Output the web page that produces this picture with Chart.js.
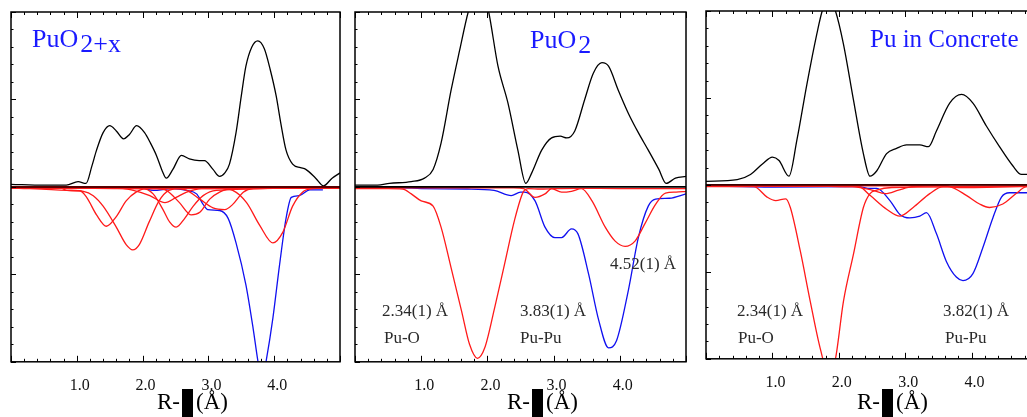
<!DOCTYPE html>
<html>
<head>
<meta charset="utf-8">
<script src="https://cdn.jsdelivr.net/npm/chart.js@4.4.1/dist/chart.umd.min.js"></script>
<style>
html, body { margin: 0; padding: 0; background: #fff; overflow: hidden; }
#wrap { position: relative; width: 1027px; height: 417px; overflow: hidden; }
canvas { position: absolute; top: 0; }
</style>
</head>
<body>
<div id="wrap">
  <canvas id="c1" width="345" height="417" style="left:0px"></canvas>
  <canvas id="c2" width="345" height="417" style="left:345px"></canvas>
  <canvas id="c3" width="350" height="417" style="left:690px"></canvas>
</div>
<script>
// tick labels on the R axis
const xTickValues = [1, 2, 3, 4];
const zeroX = [0, 5];
const zeroY = [0, 0];

// ---- PuO2+x ----
const p1BlackX = [0, 0.5, 0.84, 1.02, 1.14, 1.23, 1.30, 1.40, 1.5, 1.6, 1.71, 1.80, 1.91, 2.03, 2.12, 2.21, 2.30, 2.36, 2.46, 2.59, 2.71, 2.86, 2.94, 3.07, 3.17, 3.25, 3.32, 3.42, 3.50, 3.57, 3.66, 3.75, 3.85, 3.94, 4.03, 4.10, 4.18, 4.28, 4.40, 4.48, 4.63, 4.75, 4.88, 5.0];
const p1BlackY = [0.015, 0.01, 0.01, 0.03, 0.02, 0.12, 0.21, 0.31, 0.35, 0.32, 0.275, 0.30, 0.35, 0.31, 0.25, 0.18, 0.09, 0.05, 0.10, 0.18, 0.16, 0.15, 0.15, 0.10, 0.06, 0.08, 0.13, 0.31, 0.52, 0.69, 0.80, 0.835, 0.79, 0.67, 0.52, 0.365, 0.21, 0.13, 0.11, 0.10, 0.05, 0.006, 0.05, 0.08];
const p1BlueX = [0, 1.0, 2.0, 2.16, 2.45, 2.67, 2.82, 2.92, 2.99, 3.17, 3.30, 3.42, 3.57, 3.68, 3.75, 3.81, 3.88, 3.98, 4.08, 4.18, 4.26, 4.38, 4.54, 4.74];
const p1BlueY = [-0.003, -0.005, -0.008, -0.02, -0.01, -0.02, -0.04, -0.10, -0.13, -0.135, -0.18, -0.32, -0.56, -0.81, -0.99, -1.12, -0.99, -0.75, -0.45, -0.18, -0.06, -0.05, -0.017, -0.017];
const p1RedAX = [0, 0.75, 0.85, 1.05, 1.15, 1.3, 1.45, 1.6, 1.75, 1.9, 2.05, 5.0];
const p1RedAY = [-0.005, -0.005, -0.02, -0.022, -0.06, -0.16, -0.225, -0.17, -0.08, -0.03, -0.01, -0.005];
const p1RedBX = [0, 0.85, 1.1, 1.25, 1.4, 1.6, 1.75, 1.85, 1.95, 2.1, 2.25, 2.4, 2.6, 5.0];
const p1RedBY = [-0.005, -0.02, -0.025, -0.05, -0.11, -0.23, -0.33, -0.36, -0.33, -0.2, -0.08, -0.02, -0.008, -0.005];
const p1RedCX = [0, 2.0, 2.16, 2.31, 2.41, 2.51, 2.64, 2.77, 2.92, 3.12, 5.0];
const p1RedCY = [-0.005, -0.01, -0.04, -0.13, -0.2, -0.23, -0.18, -0.11, -0.05, -0.02, -0.005];
const p1RedDX = [0, 2.2, 2.36, 2.56, 2.74, 2.87, 3.02, 3.17, 3.35, 5.0];
const p1RedDY = [-0.005, -0.01, -0.02, -0.09, -0.16, -0.145, -0.07, -0.03, -0.01, -0.005];
const p1RedEX = [0, 3.2, 3.37, 3.58, 3.78, 3.98, 4.13, 4.28, 4.43, 4.59, 5.0];
const p1RedEY = [-0.005, -0.01, -0.02, -0.09, -0.22, -0.32, -0.26, -0.11, -0.03, -0.01, -0.005];
const p1RedFX = [0, 2.5, 2.67, 2.87, 3.07, 3.25, 3.37, 3.53, 3.68, 5.0];
const p1RedFY = [-0.005, -0.01, -0.02, -0.07, -0.12, -0.13, -0.10, -0.03, -0.01, -0.005];
const p1RedGX = [0, 1.7, 1.86, 2.11, 2.34, 2.51, 2.67, 2.9, 5.0];
const p1RedGY = [-0.005, -0.01, -0.02, -0.05, -0.09, -0.06, -0.03, -0.01, -0.005];

// ---- PuO2 ----
const p2BlackX = [0, 0.34, 0.52, 0.85, 1.05, 1.18, 1.30, 1.45, 1.58, 1.71, 1.80, 1.87, 1.95, 2.02, 2.16, 2.31, 2.46, 2.58, 2.67, 2.82, 2.97, 3.10, 3.20, 3.32, 3.47, 3.60, 3.73, 3.83, 3.98, 4.13, 4.28, 4.43, 4.59, 4.70, 4.84, 5.0];
const p2BlackY = [0.01, 0.01, 0.02, 0.03, 0.05, 0.10, 0.25, 0.55, 0.78, 1.0, 1.1, 1.13, 1.1, 1.0, 0.69, 0.48, 0.21, 0.02, 0.08, 0.21, 0.28, 0.29, 0.28, 0.32, 0.50, 0.65, 0.71, 0.69, 0.55, 0.42, 0.31, 0.21, 0.10, 0.02, 0.05, 0.06];
const p2BlueX = [0, 0.7, 1.0, 1.7, 2.1, 2.36, 2.50, 2.56, 2.72, 2.87, 3.02, 3.12, 3.27, 3.37, 3.53, 3.68, 3.83, 3.95, 4.13, 4.28, 4.43, 4.54, 4.75, 5.0];
const p2BlueY = [-0.005, -0.005, -0.01, -0.012, -0.02, -0.05, -0.03, -0.03, -0.08, -0.23, -0.29, -0.29, -0.24, -0.27, -0.50, -0.76, -0.92, -0.88, -0.59, -0.29, -0.11, -0.07, -0.065, -0.04];
const p2RedOX = [0, 0.5, 0.72, 0.85, 1.0, 1.18, 1.30, 1.45, 1.61, 1.73, 1.85, 1.96, 2.11, 2.26, 2.41, 2.54, 2.62, 2.8, 3.0, 3.4, 4.0, 5.0];
const p2RedOY = [-0.01, -0.01, -0.012, -0.04, -0.08, -0.11, -0.23, -0.46, -0.71, -0.90, -0.98, -0.92, -0.69, -0.44, -0.19, -0.03, -0.01, -0.012, -0.01, -0.008, -0.01, -0.01];
const p2RedFarX = [0, 2.4, 2.55, 2.72, 2.87, 2.97, 3.12, 3.27, 3.42, 3.58, 3.78, 3.93, 4.08, 4.23, 4.38, 4.54, 4.69, 4.85, 5.0];
const p2RedFarY = [-0.005, -0.005, -0.01, -0.06, -0.04, -0.01, -0.03, -0.025, -0.01, -0.08, -0.23, -0.31, -0.34, -0.31, -0.21, -0.10, -0.035, -0.03, -0.025];

// ---- Pu in Concrete ----
const p3BlackX = [0, 0.47, 0.67, 0.85, 1.0, 1.1, 1.25, 1.37, 1.52, 1.67, 1.75, 1.85, 1.95, 2.07, 2.22, 2.37, 2.47, 2.57, 2.72, 2.87, 3.02, 3.22, 3.35, 3.47, 3.67, 3.85, 4.02, 4.22, 4.42, 4.62, 4.75, 4.85, 5.0];
const p3BlackY = [0.02, 0.03, 0.06, 0.12, 0.16, 0.14, 0.05, 0.26, 0.58, 0.87, 1.0, 1.08, 1.0, 0.81, 0.49, 0.18, 0.05, 0.08, 0.18, 0.21, 0.23, 0.23, 0.22, 0.31, 0.47, 0.52, 0.47, 0.34, 0.22, 0.11, 0.06, 0.06, 0.06];
const p3BlueX = [0, 1.0, 2.3, 2.47, 2.57, 2.77, 2.92, 3.07, 3.22, 3.32, 3.47, 3.62, 3.77, 3.87, 4.02, 4.17, 4.32, 4.45, 4.57, 4.82, 5.0];
const p3BlueY = [-0.005, -0.012, -0.01, -0.02, -0.02, -0.09, -0.17, -0.19, -0.18, -0.16, -0.28, -0.44, -0.53, -0.55, -0.51, -0.36, -0.19, -0.07, -0.045, -0.045, -0.045];
const p3RedOX = [0, 0.72, 0.92, 1.05, 1.2, 1.27, 1.42, 1.57, 1.72, 1.86, 1.95, 2.07, 2.22, 2.37, 2.47, 2.57, 2.8, 5.0];
const p3RedOY = [-0.01, -0.01, -0.07, -0.09, -0.08, -0.13, -0.38, -0.67, -0.94, -1.1, -1.0, -0.67, -0.40, -0.13, -0.05, -0.03, -0.015, -0.01];
const p3RedMidX = [0, 2.3, 2.47, 2.72, 2.92, 3.12, 3.37, 3.57, 5.0];
const p3RedMidY = [-0.005, -0.01, -0.06, -0.14, -0.18, -0.13, -0.05, -0.01, -0.005];
const p3RedFarX = [0, 3.5, 3.67, 3.92, 4.12, 4.27, 4.47, 4.67, 4.82, 5.0];
const p3RedFarY = [-0.005, -0.005, -0.01, -0.06, -0.11, -0.13, -0.11, -0.05, -0.01, -0.005];
const p3RedSmallX = [0, 2.2, 2.5, 2.7, 2.9, 3.1, 3.6, 3.8, 5.0];
const p3RedSmallY = [-0.005, -0.01, -0.03, -0.05, -0.03, -0.01, -0.005, -0.015, -0.005];

const RED = '#ff1a1a', BLUE = '#1010f0', BLACK = '#000';
const SERIF = '"Liberation Serif", "Times New Roman", serif';

function pts(xs, ys) {
    return xs.map((x, i) => ({ x: x, y: ys[i] }));
}

function line(xs, ys, color, w) {
    return {
        data: pts(xs, ys),
        borderColor: color,
        borderWidth: w || 1.3,
        pointRadius: 0,
        fill: false,
        cubicInterpolationMode: 'monotone'
    };
}

// frame, inner ticks and text labels
const decoPlugin = {
    id: 'deco',
    afterDraw(chart, args, opts) {
        const ctx = chart.ctx, a = chart.chartArea;
        const xs = chart.scales.x, ys = chart.scales.y;
        ctx.save();
        ctx.strokeStyle = '#000';
        ctx.lineWidth = 1;
        ctx.beginPath();
        for (let i = 0; i <= 25; i++) {
            const px = Math.round(xs.getPixelForValue(i * 0.2)) + 0.5;
            const len = i % 5 === 0 ? 6 : 3;
            ctx.moveTo(px, a.bottom); ctx.lineTo(px, a.bottom - len);
            ctx.moveTo(px, a.top); ctx.lineTo(px, a.top + len);
        }
        for (let j = -10; j <= 10; j++) {
            const py = Math.round(ys.getPixelForValue(j * 0.1)) + 0.5;
            const len = j % 5 === 0 ? 5 : 2.5;
            ctx.moveTo(a.left, py); ctx.lineTo(a.left + len, py);
        }
        ctx.stroke();
        ctx.lineWidth = 1.5;
        ctx.strokeRect(a.left, a.top, a.right - a.left, a.bottom - a.top);

        // panel title
        ctx.fillStyle = '#1a1aff';
        ctx.textBaseline = 'alphabetic';
        ctx.textAlign = 'left';
        const t = opts.title;
        ctx.font = t.size + 'px ' + SERIF;
        ctx.fillText(t.text, t.x, t.y);
        if (t.sub) {
            const w = ctx.measureText(t.text).width;
            ctx.fillText(t.sub, t.x + w + 2, t.y + 5);
        }

        // fit labels
        ctx.fillStyle = '#2a2a2a';
        ctx.font = '17px ' + SERIF;
        (opts.notes || []).forEach(n => ctx.fillText(n.text, n.x, n.y));

        // axis title: R-[block] (Å)
        ctx.fillStyle = '#000';
        ctx.font = '23px ' + SERIF;
        const xt = opts.xTitle;
        ctx.fillText('R-', xt.x, 409);
        const rw = ctx.measureText('R-').width;
        ctx.fillRect(xt.x + rw + 2, 389, 11, 30);
        ctx.fillText('(Å)', xt.x + rw + 16, 409);
        ctx.restore();
    }
};

function makePanel(id, datasets, pad, deco) {
    return new Chart(document.getElementById(id), {
        type: 'line',
        data: { datasets: datasets },
        options: {
            responsive: false,
            animation: false,
            layout: { padding: pad },
            plugins: {
                legend: { display: false },
                tooltip: { enabled: false },
                deco: deco
            },
            scales: {
                x: {
                    type: 'linear',
                    min: 0,
                    max: 5,
                    grid: { display: false, drawTicks: false },
                    border: { display: false },
                    afterBuildTicks: s => { s.ticks = xTickValues.map(v => ({ value: v })); },
                    ticks: {
                        padding: 14,
                        labelOffset: 3,
                        color: '#111',
                        font: { family: SERIF, size: 16 },
                        callback: v => Number(v).toFixed(1)
                    }
                },
                y: { display: false, min: -1, max: 1 }
            }
        },
        plugins: [decoPlugin]
    });
}

makePanel('c1', [
    line(zeroX, zeroY, '#5a0000', 2),
    line(p1BlackX, p1BlackY, BLACK),
    line(p1RedAX, p1RedAY, RED),
    line(p1RedBX, p1RedBY, RED),
    line(p1RedCX, p1RedCY, RED),
    line(p1RedDX, p1RedDY, RED),
    line(p1RedEX, p1RedEY, RED),
    line(p1RedFX, p1RedFY, RED),
    line(p1RedGX, p1RedGY, RED),
    line(p1BlueX, p1BlueY, BLUE)
], { left: 11, right: 5, top: 12, bottom: 8 }, {
    title: { text: 'PuO', sub: '2+x', x: 32, y: 47, size: 26 },
    notes: [],
    xTitle: { x: 157 }
});

makePanel('c2', [
    line(zeroX, zeroY, BLACK, 1.8),
    line(p2BlackX, p2BlackY, BLACK),
    line(p2RedOX, p2RedOY, RED),
    line(p2RedFarX, p2RedFarY, RED),
    line(p2BlueX, p2BlueY, BLUE)
], { left: 10, right: 4, top: 12, bottom: 8 }, {
    title: { text: 'PuO', sub: '2', x: 185, y: 48, size: 26 },
    notes: [
        { text: '2.34(1) Å', x: 37, y: 316 },
        { text: 'Pu-O', x: 39, y: 343 },
        { text: '3.83(1) Å', x: 175, y: 316 },
        { text: 'Pu-Pu', x: 175, y: 343 },
        { text: '4.52(1) Å', x: 265, y: 269 }
    ],
    xTitle: { x: 162 }
});

makePanel('c3', [
    line(zeroX, zeroY, '#3a0000', 1.8),
    line(p3BlackX, p3BlackY, BLACK),
    line(p3RedOX, p3RedOY, RED),
    line(p3RedMidX, p3RedMidY, RED),
    line(p3RedFarX, p3RedFarY, RED),
    line(p3RedSmallX, p3RedSmallY, RED),
    line(p3BlueX, p3BlueY, BLUE)
], { left: 16, right: 2, top: 11, bottom: 11 }, {
    title: { text: 'Pu in Concrete', x: 180, y: 47, size: 25 },
    notes: [
        { text: '2.34(1) Å', x: 47, y: 316 },
        { text: 'Pu-O', x: 48, y: 343 },
        { text: '3.82(1) Å', x: 253, y: 316 },
        { text: 'Pu-Pu', x: 255, y: 343 }
    ],
    xTitle: { x: 167 }
});
</script>
</body>
</html>
